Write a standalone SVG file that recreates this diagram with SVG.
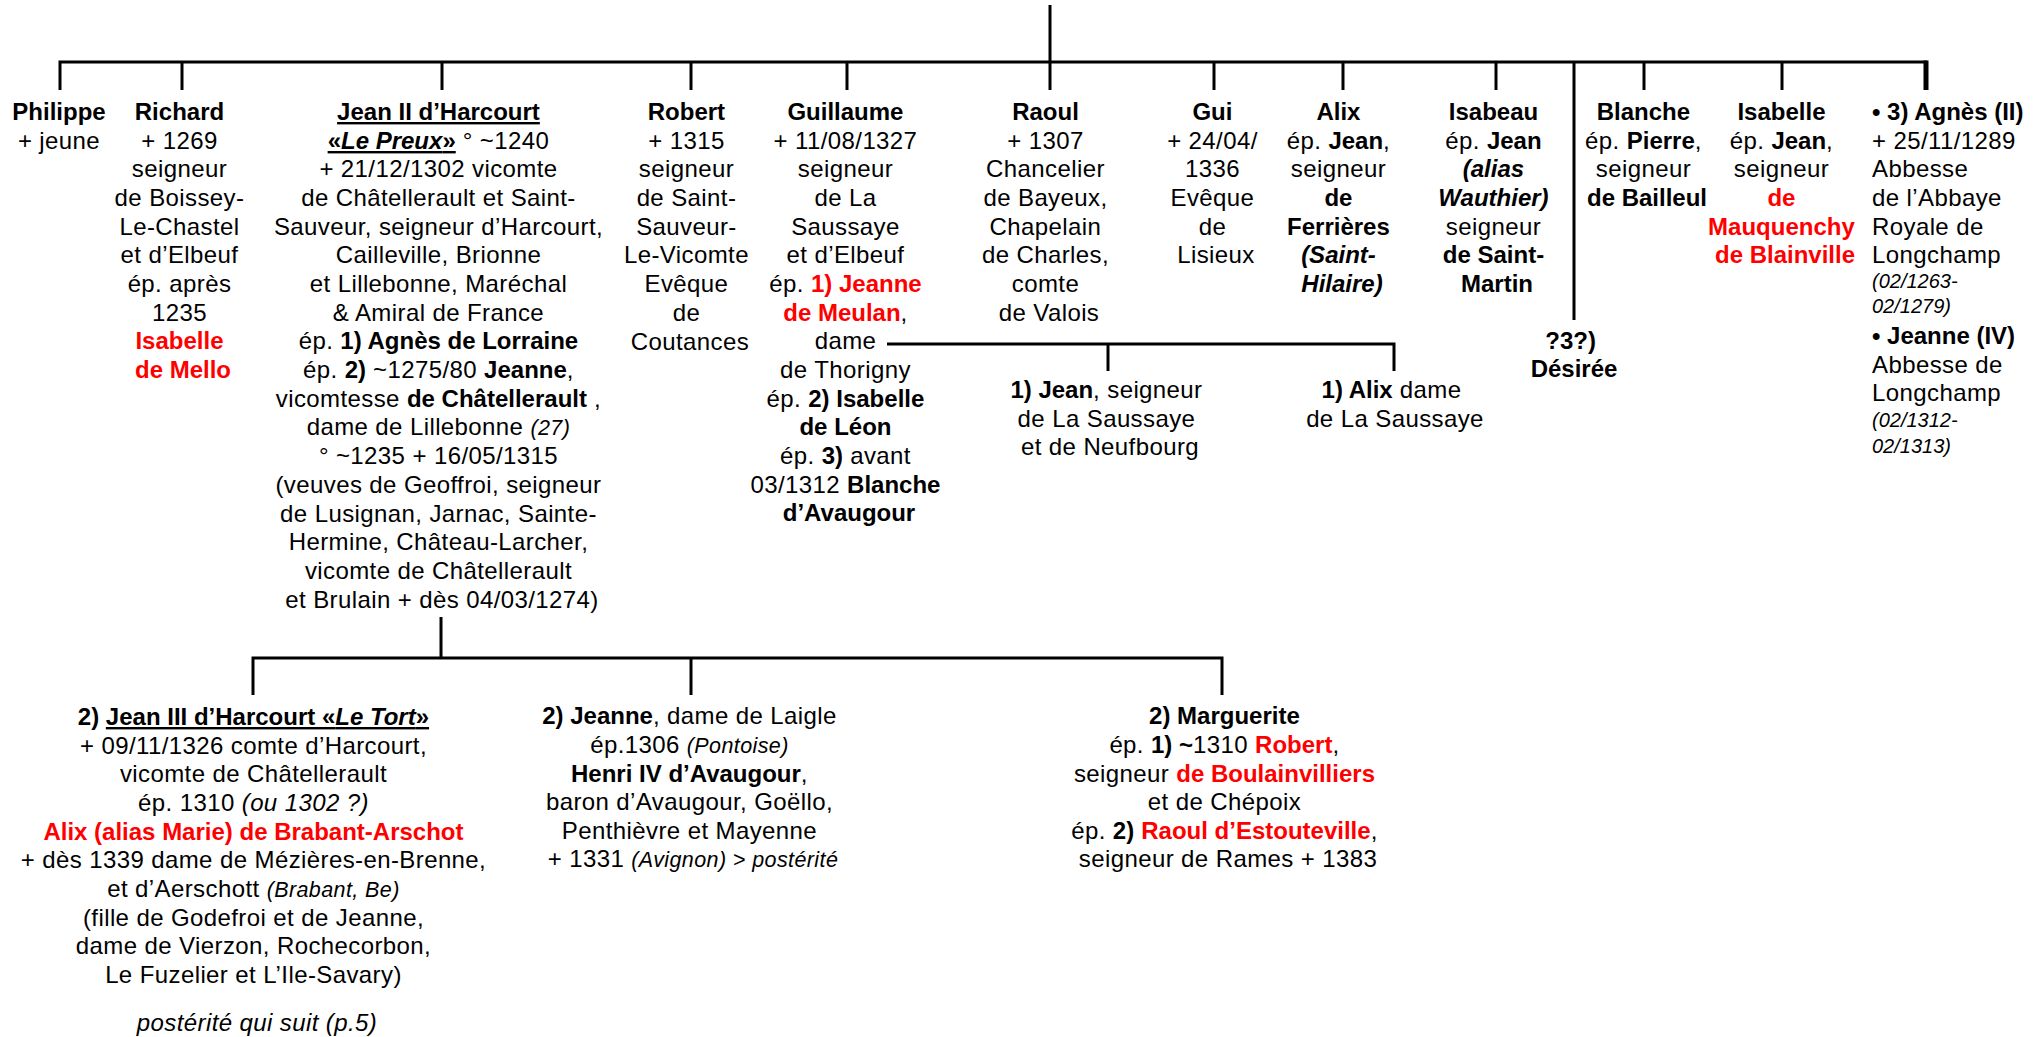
<svg xmlns="http://www.w3.org/2000/svg" width="2037" height="1037" viewBox="0 0 2037 1037">
<style>
text{font-family:"Liberation Sans",Arial,sans-serif;font-size:24px;fill:#000;text-anchor:middle;letter-spacing:0.4px}
.b{font-weight:bold;letter-spacing:0}
.r{font-weight:bold;fill:#f00;letter-spacing:0}
.i{font-style:italic}
.s{font-size:21.5px}
.a{font-size:20px;letter-spacing:0}
.u{text-decoration:underline}
text.l{text-anchor:start}
.ln{stroke:#000;stroke-width:3;fill:none}
</style>
<rect width="2037" height="1037" fill="#fff"/>
<g id="connectors">
<line class="ln" x1="1050" y1="5" x2="1050" y2="90"/>
<path class="ln" d="M60,90 V62 H1927"/>
<line class="ln" x1="182" y1="62" x2="182" y2="90"/>
<line class="ln" x1="442" y1="62" x2="442" y2="90"/>
<line class="ln" x1="691" y1="62" x2="691" y2="90"/>
<line class="ln" x1="847" y1="62" x2="847" y2="90"/>
<line class="ln" x1="1214" y1="62" x2="1214" y2="90"/>
<line class="ln" x1="1343" y1="62" x2="1343" y2="90"/>
<line class="ln" x1="1496" y1="62" x2="1496" y2="90"/>
<line class="ln" x1="1574" y1="62" x2="1574" y2="320"/>
<line class="ln" x1="1644" y1="62" x2="1644" y2="90"/>
<line class="ln" x1="1782" y1="62" x2="1782" y2="90"/>
<line stroke="#000" stroke-width="5" x1="1926" y1="60.5" x2="1926" y2="90"/>
<path class="ln" d="M887,344 H1394 V371"/>
<line class="ln" x1="1108" y1="344" x2="1108" y2="371"/>
<line class="ln" x1="441" y1="617" x2="441" y2="658"/>
<path class="ln" d="M253,695 V658 H1222 V695"/>
<line class="ln" x1="691" y1="658" x2="691" y2="695"/>
</g>
<g id="n-philippe"><text><tspan x="59" y="120" class="b">Philippe</tspan><tspan x="59" y="149">+ jeune</tspan></text></g>
<g id="n-richard"><text>
<tspan x="183" y="120" class="b">Richard</tspan>
<tspan x="183" y="149">+ 1269</tspan>
<tspan x="183" y="177">seigneur</tspan>
<tspan x="183" y="206">de Boissey-</tspan>
<tspan x="183" y="235">Le-Chastel</tspan>
<tspan x="183" y="263">et d’Elbeuf</tspan>
<tspan x="183" y="292">ép. après</tspan>
<tspan x="183" y="321">1235</tspan>
<tspan x="183" y="349" class="r">Isabelle</tspan>
<tspan x="183" y="378" class="r">de Mello</tspan>
</text></g>
<g id="n-jean2"><text>
<tspan x="442" y="120" class="b u">Jean II d’Harcourt</tspan>
<tspan x="442" y="149"><tspan class="b u">«<tspan class="i">Le Preux</tspan>»</tspan> ° ~1240</tspan>
<tspan x="442" y="177">+ 21/12/1302 vicomte</tspan>
<tspan x="442" y="206">de Châtellerault et Saint-</tspan>
<tspan x="442" y="235">Sauveur, seigneur d’Harcourt,</tspan>
<tspan x="442" y="263">Cailleville, Brionne</tspan>
<tspan x="442" y="292">et Lillebonne, Maréchal</tspan>
<tspan x="442" y="321">&amp; Amiral de France</tspan>
<tspan x="442" y="349">ép. <tspan class="b">1) Agnès de Lorraine</tspan></tspan>
<tspan x="442" y="378">ép. <tspan class="b">2)</tspan> ~1275/80 <tspan class="b">Jeanne</tspan>,</tspan>
<tspan x="442" y="407">vicomtesse <tspan class="b">de Châtellerault</tspan> ,</tspan>
<tspan x="442" y="435">dame de Lillebonne <tspan class="i s">(27)</tspan></tspan>
<tspan x="442" y="464">° ~1235 + 16/05/1315</tspan>
<tspan x="442" y="493">(veuves de Geoffroi, seigneur</tspan>
<tspan x="442" y="522">de Lusignan, Jarnac, Sainte-</tspan>
<tspan x="442" y="550">Hermine, Château-Larcher,</tspan>
<tspan x="442" y="579">vicomte de Châtellerault</tspan>
<tspan x="442" y="608">et Brulain + dès 04/03/1274)</tspan>
</text></g>
<g id="n-robert"><text>
<tspan x="690" y="120" class="b">Robert</tspan>
<tspan x="690" y="149">+ 1315</tspan>
<tspan x="690" y="177">seigneur</tspan>
<tspan x="690" y="206">de Saint-</tspan>
<tspan x="690" y="235">Sauveur-</tspan>
<tspan x="690" y="263">Le-Vicomte</tspan>
<tspan x="690" y="292">Evêque</tspan>
<tspan x="690" y="321">de</tspan>
<tspan x="690" y="350">Coutances</tspan>
</text></g>
<g id="n-guillaume"><text>
<tspan x="849" y="120" class="b">Guillaume</tspan>
<tspan x="849" y="149">+ 11/08/1327</tspan>
<tspan x="849" y="177">seigneur</tspan>
<tspan x="849" y="206">de La</tspan>
<tspan x="849" y="235">Saussaye</tspan>
<tspan x="849" y="263">et d’Elbeuf</tspan>
<tspan x="849" y="292">ép. <tspan class="r">1) Jeanne</tspan></tspan>
<tspan x="849" y="321"><tspan class="r">de Meulan</tspan>,</tspan>
<tspan x="849" y="349">dame</tspan>
<tspan x="849" y="378">de Thorigny</tspan>
<tspan x="849" y="407">ép. <tspan class="b">2) Isabelle</tspan></tspan>
<tspan x="849" y="435" class="b">de Léon</tspan>
<tspan x="849" y="464">ép. <tspan class="b">3)</tspan> avant</tspan>
<tspan x="849" y="493">03/1312 <tspan class="b">Blanche</tspan></tspan>
<tspan x="849" y="521" class="b">d’Avaugour</tspan>
</text></g>
<g id="n-raoul"><text>
<tspan x="1049" y="120" class="b">Raoul</tspan>
<tspan x="1049" y="149">+ 1307</tspan>
<tspan x="1049" y="177">Chancelier</tspan>
<tspan x="1049" y="206">de Bayeux,</tspan>
<tspan x="1049" y="235">Chapelain</tspan>
<tspan x="1049" y="263">de Charles,</tspan>
<tspan x="1049" y="292">comte</tspan>
<tspan x="1049" y="321">de Valois</tspan>
</text></g>
<g id="n-gui"><text>
<tspan x="1216" y="120" class="b">Gui</tspan>
<tspan x="1216" y="149">+ 24/04/</tspan>
<tspan x="1216" y="177">1336</tspan>
<tspan x="1216" y="206">Evêque</tspan>
<tspan x="1216" y="235">de</tspan>
<tspan x="1216" y="263">Lisieux</tspan>
</text></g>
<g id="n-alix"><text>
<tspan x="1342" y="120" class="b">Alix</tspan>
<tspan x="1342" y="149">ép. <tspan class="b">Jean</tspan>,</tspan>
<tspan x="1342" y="177">seigneur</tspan>
<tspan x="1342" y="206" class="b">de</tspan>
<tspan x="1342" y="235" class="b">Ferrières</tspan>
<tspan x="1342" y="263" class="b i">(Saint-</tspan>
<tspan x="1342" y="292" class="b i">Hilaire)</tspan>
</text></g>
<g id="n-isabeau"><text>
<tspan x="1497" y="120" class="b">Isabeau</tspan>
<tspan x="1497" y="149">ép. <tspan class="b">Jean</tspan></tspan>
<tspan x="1497" y="177" class="b i">(alias</tspan>
<tspan x="1497" y="206" class="b i">Wauthier)</tspan>
<tspan x="1497" y="235">seigneur</tspan>
<tspan x="1497" y="263" class="b">de Saint-</tspan>
<tspan x="1497" y="292" class="b">Martin</tspan>
</text></g>
<g id="n-desiree"><text class="b">
<tspan x="1574" y="349">?3?)</tspan>
<tspan x="1574" y="377">Désirée</tspan>
</text></g>
<g id="n-blanche"><text>
<tspan x="1647" y="120" class="b">Blanche</tspan>
<tspan x="1647" y="149">ép. <tspan class="b">Pierre</tspan>,</tspan>
<tspan x="1647" y="177">seigneur</tspan>
<tspan x="1647" y="206" class="b">de Bailleul</tspan>
</text></g>
<g id="n-isabelle"><text>
<tspan x="1785" y="120" class="b">Isabelle</tspan>
<tspan x="1785" y="149">ép. <tspan class="b">Jean</tspan>,</tspan>
<tspan x="1785" y="177">seigneur</tspan>
<tspan x="1785" y="206" class="r">de</tspan>
<tspan x="1785" y="235" class="r">Mauquenchy</tspan>
<tspan x="1785" y="263" class="r">de Blainville</tspan>
</text></g>
<g id="n-agnes"><text class="l">
<tspan x="1872" y="120" class="b">• 3) Agnès (II)</tspan>
<tspan x="1872" y="149">+ 25/11/1289</tspan>
<tspan x="1872" y="177">Abbesse</tspan>
<tspan x="1872" y="206">de l’Abbaye</tspan>
<tspan x="1872" y="235">Royale de</tspan>
<tspan x="1872" y="263">Longchamp</tspan>
<tspan x="1872" y="288" class="i a">(02/1263-</tspan>
<tspan x="1872" y="313" class="i a">02/1279)</tspan>
<tspan x="1872" y="344" class="b">• Jeanne (IV)</tspan>
<tspan x="1872" y="373">Abbesse de</tspan>
<tspan x="1872" y="401">Longchamp</tspan>
<tspan x="1872" y="427" class="i a">(02/1312-</tspan>
<tspan x="1872" y="453" class="i a">02/1313)</tspan>
</text></g>
<g id="n-jean-saussaye"><text>
<tspan x="1110" y="398"><tspan class="b">1) Jean</tspan>, seigneur</tspan>
<tspan x="1110" y="427">de La Saussaye</tspan>
<tspan x="1110" y="455">et de Neufbourg</tspan>
</text></g>
<g id="n-alix-saussaye"><text>
<tspan x="1395" y="398"><tspan class="b">1) Alix</tspan> dame</tspan>
<tspan x="1395" y="427">de La Saussaye</tspan>
</text></g>
<g id="n-jean3"><text>
<tspan x="257" y="725"><tspan class="b">2) </tspan><tspan class="b u">Jean III d’Harcourt «<tspan class="i">Le Tort</tspan>»</tspan></tspan>
<tspan x="257" y="754">+ 09/11/1326 comte d’Harcourt,</tspan>
<tspan x="257" y="782">vicomte de Châtellerault</tspan>
<tspan x="257" y="811">ép. 1310 <tspan class="i">(ou 1302 ?)</tspan></tspan>
<tspan x="257" y="840" class="r">Alix (alias Marie) de Brabant-Arschot</tspan>
<tspan x="257" y="868">+ dès 1339 dame de Mézières-en-Brenne,</tspan>
<tspan x="257" y="897">et d’Aerschott <tspan class="i s">(Brabant, Be)</tspan></tspan>
<tspan x="257" y="926">(fille de Godefroi et de Jeanne,</tspan>
<tspan x="257" y="954">dame de Vierzon, Rochecorbon,</tspan>
<tspan x="257" y="983">Le Fuzelier et L’Ile-Savary)</tspan>
<tspan x="257" y="1031" class="i">postérité qui suit (p.5)</tspan>
</text></g>
<g id="n-jeanne"><text>
<tspan x="693" y="724"><tspan class="b">2) Jeanne</tspan>, dame de Laigle</tspan>
<tspan x="693" y="753">ép.1306 <tspan class="i s">(Pontoise)</tspan></tspan>
<tspan x="693" y="782"><tspan class="b">Henri IV d’Avaugour</tspan>,</tspan>
<tspan x="693" y="810">baron d’Avaugour, Goëllo,</tspan>
<tspan x="693" y="839">Penthièvre et Mayenne</tspan>
<tspan x="693" y="867">+ 1331 <tspan class="i s">(Avignon) &gt; postérité</tspan></tspan>
</text></g>
<g id="n-marguerite"><text>
<tspan x="1228" y="724" class="b">2) Marguerite</tspan>
<tspan x="1228" y="753">ép. <tspan class="b">1) ~</tspan>1310 <tspan class="r">Robert</tspan>,</tspan>
<tspan x="1228" y="782">seigneur <tspan class="r">de Boulainvilliers</tspan></tspan>
<tspan x="1228" y="810">et de Chépoix</tspan>
<tspan x="1228" y="839">ép. <tspan class="b">2)</tspan> <tspan class="r">Raoul d’Estouteville</tspan>,</tspan>
<tspan x="1228" y="867">seigneur de Rames + 1383</tspan>
</text></g>
</svg>
